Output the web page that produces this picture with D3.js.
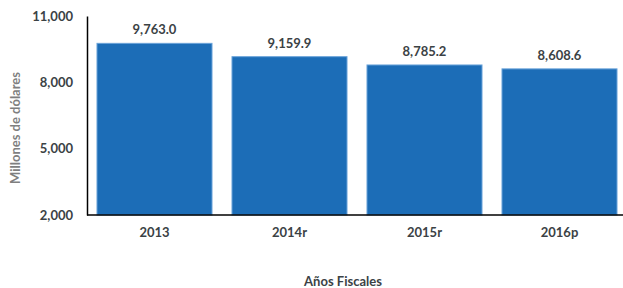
<!DOCTYPE html>
<html>
<head>
<meta charset="utf-8">
<script src="https://cdn.jsdelivr.net/npm/d3@7"></script>
<style>
  body { margin: 0; background: #fff; }
  text { font-family: Lato, "Open Sans", sans-serif; }
</style>
</head>
<body>
<div id="chart"></div>
<script>
// data
var years = ["2013", "2014r", "2015r", "2016p"];
var values = [9763.0, 9159.9, 8785.2, 8608.6];
var yTicks = [2000, 5000, 8000, 11000];

var width = 623, height = 288;
var margin = {top: 16, left: 87, bottom: 73};

var svg = d3.select("#chart").append("svg")
    .attr("width", width)
    .attr("height", height);

var x = d3.scaleBand()
    .domain(years)
    .range([margin.left, margin.left + 540])
    .paddingInner(0.148)
    .paddingOuter(0.074);

var y = d3.scaleLinear()
    .domain([2000, 11000])
    .range([height - margin.bottom, margin.top]);

//bars
svg.selectAll("rect.bar")
    .data(values)
    .enter().append("rect")
    .attr("class", "bar")
    .attr("x", function(d, i) { return x(years[i]); })
    .attr("y", function(d) { return y(d); })
    .attr("width", x.bandwidth())
    .attr("height", function(d) { return y(2000) - y(d); })
    .attr("fill", "#1c6db7")
    .attr("stroke", "#6aa3d9")
    .attr("stroke-width", 1);

//value labels
svg.selectAll("text.val")
    .data(values)
    .enter().append("text")
    .attr("class", "val")
    .attr("x", function(d, i) { return x(years[i]) + x.bandwidth() / 2; })
    .attr("y", function(d) { return y(d) - 9; })
    .attr("text-anchor", "middle")
    .attr("font-size", 13)
    .attr("font-weight", "bold")
    .attr("fill", "#3b4245")
    .text(function(d) { return d3.format(",.1f")(d); });

//y axis
var yAxis = svg.append("g")
    .attr("transform", "translate(" + margin.left + ",0)")
    .call(d3.axisLeft(y).tickValues(yTicks).tickFormat(d3.format(",")).tickSize(0).tickPadding(14));
yAxis.select(".domain").attr("stroke", "#000").attr("stroke-width", 1.5);
yAxis.selectAll("text")
    .attr("font-size", 13)
    .attr("font-weight", "bold")
    .attr("fill", "#3b4245")
    .style("font-family", "Lato, 'Open Sans', sans-serif");

//x axis
var xAxis = svg.append("g")
    .attr("transform", "translate(0," + y(2000) + ")")
    .call(d3.axisBottom(x).tickSize(0).tickPadding(13));
xAxis.select(".domain").remove();
xAxis.selectAll("text")
    .attr("font-size", 13)
    .attr("font-weight", "bold")
    .attr("fill", "#3b4245")
    .style("font-family", "Lato, 'Open Sans', sans-serif");
svg.append("line")
    .attr("x1", margin.left)
    .attr("x2", width)
    .attr("y1", y(2000))
    .attr("y2", y(2000))
    .attr("stroke", "#000")
    .attr("stroke-width", 1.5);

//axis titles
svg.append("text")
    .attr("transform", "translate(20," + 128 + ") rotate(-90)")
    .attr("text-anchor", "middle")
    .attr("font-size", 13)
    .attr("font-weight", "bold")
    .attr("fill", "#7f7f7f")
    .text("Millones de dólares");

svg.append("text")
    .attr("x", 343)
    .attr("y", 286)
    .attr("text-anchor", "middle")
    .attr("font-size", 13)
    .attr("font-weight", "bold")
    .attr("fill", "#3b4245")
    .text("Años Fiscales");
</script>
</body>
</html>
